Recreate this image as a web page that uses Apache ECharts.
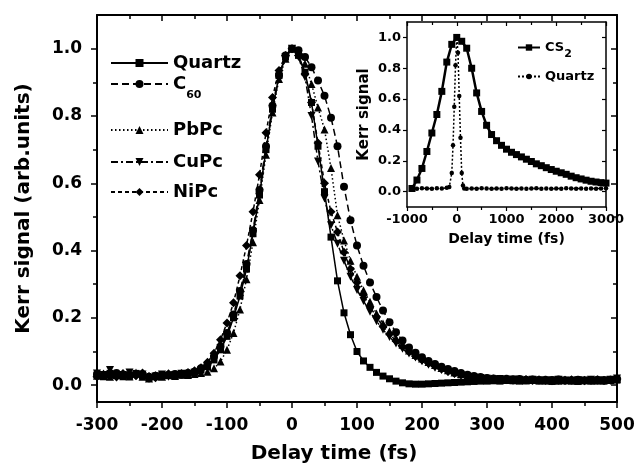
<!DOCTYPE html>
<html>
<head>
<meta charset="utf-8">
<script src="https://cdn.jsdelivr.net/npm/echarts@6/dist/echarts.min.js"></script>
<style>html,body{margin:0;padding:0;background:#fff}#c{width:636px;height:471px}</style>
</head>
<body>
<div id="c"></div>
<script>
// ---------- main panel data ----------
const delayMain = [-300,-290,-280,-270,-260,-250,-240,-230,-220,-210,-200,-190,-180,-170,-160,-150,
  -140,-130,-120,-110,-100,-90,-80,-70,-60,-50,-40,-30,-20,-10,0,
  10,20,30,40,50,60,70,80,90,100,110,120,130,140,150,160,170,180,190,200,
  210,220,230,240,250,260,270,280,290,300,
  310,320,330,340,350,360,370,380,390,400,410,420,430,440,450,460,470,480,490,500];
const quartz = [0.03,0.025,0.035,0.03,0.025,0.03,0.035,0.028,0.022,0.025,0.03,0.028,0.032,0.03,0.035,0.038,
  0.045,0.055,0.075,0.105,0.145,0.20,0.265,0.345,0.45,0.565,0.70,0.82,0.92,0.975,1.0,
  0.98,0.93,0.84,0.71,0.575,0.44,0.31,0.215,0.15,0.10,0.072,0.053,0.038,0.027,0.019,0.012,0.007,0.004,0.003,0.003,
  0.004,0.005,0.006,0.007,0.008,0.009,0.01,0.011,0.012,0.012,
  0.013,0.012,0.014,0.013,0.012,0.013,0.014,0.012,0.013,0.011,0.012,0.013,0.012,0.011,0.013,0.012,0.013,0.012,0.014,0.015];
const c60 = [0.032,0.028,0.03,0.036,0.03,0.027,0.032,0.03,0.025,0.028,0.027,0.03,0.033,0.031,0.036,0.04,
  0.05,0.062,0.085,0.115,0.155,0.21,0.28,0.36,0.46,0.58,0.71,0.83,0.92,0.98,1.0,
  0.995,0.975,0.945,0.905,0.86,0.795,0.71,0.59,0.49,0.415,0.355,0.305,0.262,0.222,0.187,0.157,0.133,0.112,0.096,0.083,
  0.072,0.063,0.055,0.048,0.042,0.036,0.031,0.027,0.024,0.021,
  0.02,0.018,0.019,0.017,0.018,0.016,0.017,0.015,0.016,0.015,0.017,0.014,0.015,0.016,0.014,0.015,0.016,0.014,0.016,0.018];
const pbpc = [0.028,0.035,0.025,0.03,0.034,0.026,0.038,0.025,0.02,0.03,0.025,0.033,0.027,0.032,0.03,0.033,
  0.036,0.04,0.05,0.07,0.105,0.155,0.225,0.315,0.425,0.55,0.685,0.81,0.91,0.97,1.0,
  0.99,0.955,0.895,0.825,0.76,0.645,0.505,0.43,0.37,0.322,0.282,0.248,0.213,0.183,0.16,0.14,0.12,0.103,0.09,0.079,
  0.069,0.06,0.051,0.044,0.038,0.033,0.029,0.025,0.022,0.02,
  0.018,0.019,0.016,0.018,0.017,0.015,0.017,0.016,0.014,0.016,0.015,0.017,0.015,0.014,0.016,0.015,0.014,0.016,0.017,0.019];
const cupc = [0.035,0.03,0.045,0.028,0.03,0.038,0.027,0.032,0.018,0.026,0.032,0.025,0.03,0.034,0.031,0.037,
  0.043,0.055,0.078,0.11,0.15,0.205,0.27,0.35,0.455,0.57,0.70,0.82,0.915,0.975,1.0,
  0.975,0.915,0.80,0.665,0.555,0.475,0.42,0.37,0.322,0.283,0.25,0.218,0.19,0.165,0.143,0.124,0.108,0.094,0.082,0.071,
  0.061,0.052,0.045,0.039,0.034,0.029,0.026,0.023,0.021,0.019,
  0.017,0.018,0.015,0.017,0.016,0.014,0.016,0.015,0.013,0.015,0.016,0.014,0.013,0.015,0.014,0.016,0.013,0.015,0.016,0.02];
const nipc = [0.025,0.032,0.03,0.024,0.035,0.03,0.028,0.036,0.026,0.022,0.028,0.034,0.029,0.035,0.038,0.043,
  0.052,0.068,0.095,0.135,0.185,0.245,0.325,0.415,0.515,0.625,0.75,0.855,0.935,0.98,1.0,
  0.98,0.925,0.84,0.72,0.60,0.515,0.455,0.395,0.345,0.305,0.268,0.233,0.203,0.175,0.152,0.131,0.114,0.099,0.086,0.075,
  0.065,0.056,0.048,0.041,0.035,0.031,0.027,0.024,0.021,0.019,
  0.018,0.016,0.017,0.015,0.016,0.017,0.014,0.016,0.015,0.013,0.015,0.014,0.016,0.015,0.013,0.015,0.016,0.014,0.015,0.018];
const mainYTicks = [0, 0.2, 0.4, 0.6, 0.8, 1.0];
const mainYMinor = [0.1, 0.3, 0.5, 0.7, 0.9];

// ---------- inset data ----------
const delayCS2 = [-900,-800,-700,-600,-500,-400,-300,-200,-100,0,100,200,300,400,500,600,700,800,900,1000,
  1100,1200,1300,1400,1500,1600,1700,1800,1900,2000,2100,2200,2300,2400,2500,2600,2700,2800,2900,3000];
const cs2 = [0.02,0.075,0.15,0.26,0.38,0.50,0.65,0.84,0.955,1.0,0.975,0.93,0.80,0.64,0.52,0.43,0.37,0.33,0.30,0.275,
  0.255,0.24,0.225,0.21,0.195,0.18,0.168,0.155,0.143,0.132,0.122,0.112,0.10,0.09,0.082,0.074,0.067,0.062,0.058,0.055];
const delayQz = [-900,-800,-700,-600,-500,-400,-300,-200,-150,-100,-75,-50,-25,0,25,50,75,100,125,150,
  200,300,400,500,600,700,800,900,1000,1100,1200,1300,1400,1500,1600,1700,1800,1900,2000,2100,2200,2300,2400,2500,2600,2700,2800,2900,3000];
const quartzInset = [0.02,0.018,0.022,0.02,0.019,0.021,0.02,0.025,0.03,0.12,0.3,0.55,0.82,1.0,0.9,0.62,0.35,0.12,0.04,0.02,
  0.018,0.02,0.019,0.021,0.02,0.018,0.02,0.019,0.021,0.02,0.019,0.02,0.018,0.02,0.021,0.019,0.02,0.018,0.02,0.019,0.021,0.02,0.019,0.02,0.018,0.02,0.019,0.02,0.021];
const insetYTicks = [0, 0.2, 0.4, 0.6, 0.8, 1.0];

const zip = (xs, ys) => xs.map((x, i) => [x, ys[i]]);
const FONT = 'DejaVu Sans';
const K = '#000';
const downTri = 'path://M0,0 L10,0 L5,9 Z';

const chart = echarts.init(document.getElementById('c'), null, {renderer: 'canvas'});

const lineAx = w => ({show: true, onZero: false, lineStyle: {color: K, width: w}});
const lbl = (size, margin, extra) => Object.assign({color: K, fontFamily: FONT, fontWeight: 'bold', fontSize: size, margin: margin}, extra || {});

const xBase = {type: 'value', splitLine: {show: false}};
const option = {
  animation: false,
  backgroundColor: '#fff',
  grid: [
    {left: 97, right: 19, top: 15, bottom: 69, outerBoundsMode: 'none'},
    {left: 407, right: 30, top: 22, bottom: 264, show: true, backgroundColor: '#fff', borderWidth: 0, outerBoundsMode: 'none'}
  ],
  xAxis: [
    Object.assign({}, xBase, {gridIndex: 0, position: 'bottom', min: -300, max: 500, interval: 100,
      axisLine: lineAx(2), axisTick: {show: true, inside: false, length: 6, lineStyle: {color: K, width: 1.5}},
      minorTick: {show: true, splitNumber: 2, length: 4, lineStyle: {color: K, width: 1.5}},
      axisLabel: lbl(17, 15, {formatter: v => String(v)}),
      name: 'Delay time (fs)', nameLocation: 'middle', nameGap: 42,
      nameTextStyle: {color: K, fontFamily: FONT, fontWeight: 'bold', fontSize: 20, padding: [0, 46, 0, 0]}}),
    Object.assign({}, xBase, {gridIndex: 0, position: 'top', min: -300, max: 500, interval: 100,
      axisLine: lineAx(2), axisTick: {show: true, inside: true, length: 6, lineStyle: {color: K, width: 1.5}},
      minorTick: {show: true, splitNumber: 2, length: 4, lineStyle: {color: K, width: 1.5}},
      axisLabel: {show: false}}),
    Object.assign({}, xBase, {gridIndex: 1, position: 'bottom', min: -1000, max: 3000, interval: 1000,
      axisLine: lineAx(1.5), axisTick: {show: true, inside: false, length: 4, lineStyle: {color: K, width: 1.2}},
      minorTick: {show: true, splitNumber: 2, length: 3, lineStyle: {color: K, width: 1.2}},
      axisLabel: lbl(13, 6, {formatter: v => String(v)}),
      name: 'Delay time (fs)', nameLocation: 'middle', nameGap: 25,
      nameTextStyle: {color: K, fontFamily: FONT, fontWeight: 'bold', fontSize: 14}}),
    Object.assign({}, xBase, {gridIndex: 1, position: 'top', min: -1000, max: 3000, interval: 1000,
      axisLine: lineAx(1.5), axisTick: {show: true, inside: true, length: 4, lineStyle: {color: K, width: 1.2}},
      minorTick: {show: true, splitNumber: 2, length: 3, lineStyle: {color: K, width: 1.2}},
      axisLabel: {show: false}})
  ],
  yAxis: [
    {type: 'value', gridIndex: 0, position: 'left', min: -0.05, max: 1.1, splitLine: {show: false},
      axisLine: lineAx(2),
      axisTick: {show: true, inside: false, length: 6, customValues: mainYTicks, lineStyle: {color: K, width: 1.5}},
      axisLabel: lbl(17, 15, {customValues: mainYTicks, formatter: v => v.toFixed(1)}),
      name: 'Kerr signal (arb.units)', nameLocation: 'middle', nameGap: 63,
      nameTextStyle: {color: K, fontFamily: FONT, fontWeight: 'bold', fontSize: 20}},
    {type: 'value', gridIndex: 0, position: 'left', min: -0.05, max: 1.1, splitLine: {show: false},
      axisLine: {show: false, onZero: false},
      axisTick: {show: true, inside: false, length: 4, customValues: mainYMinor, lineStyle: {color: K, width: 1.5}},
      axisLabel: {show: false}},
    {type: 'value', gridIndex: 0, position: 'right', min: -0.05, max: 1.1, splitLine: {show: false},
      axisLine: lineAx(2),
      axisTick: {show: true, inside: true, length: 6, customValues: mainYTicks, lineStyle: {color: K, width: 1.5}},
      axisLabel: {show: false}},
    {type: 'value', gridIndex: 0, position: 'right', min: -0.05, max: 1.1, splitLine: {show: false},
      axisLine: {show: false, onZero: false},
      axisTick: {show: true, inside: true, length: 4, customValues: mainYMinor, lineStyle: {color: K, width: 1.5}},
      axisLabel: {show: false}},
    {type: 'value', gridIndex: 1, position: 'left', min: -0.1, max: 1.1, splitLine: {show: false},
      axisLine: lineAx(1.5),
      axisTick: {show: true, inside: false, length: 4, customValues: insetYTicks, lineStyle: {color: K, width: 1.2}},
      axisLabel: lbl(13, 6, {customValues: insetYTicks, formatter: v => v.toFixed(1)}),
      name: 'Kerr signal', nameLocation: 'middle', nameGap: 35,
      nameTextStyle: {color: K, fontFamily: FONT, fontWeight: 'bold', fontSize: 15}},
    {type: 'value', gridIndex: 1, position: 'right', min: -0.1, max: 1.1, splitLine: {show: false},
      axisLine: lineAx(1.5),
      axisTick: {show: true, inside: true, length: 4, customValues: insetYTicks, lineStyle: {color: K, width: 1.2}},
      axisLabel: {show: false}}
  ],
  legend: [],
  series: []
};

const mainSeries = [
  {name: 'Quartz', data: quartz, symbol: 'rect', size: 7, dash: 'solid'},
  {name: 'C60', data: c60, symbol: 'circle', size: 8, dash: [7, 4]},
  {name: 'PbPc', data: pbpc, symbol: 'triangle', size: 8, dash: [1.5, 2.5]},
  {name: 'CuPc', data: cupc, symbol: downTri, size: 8, dash: [7, 3, 2, 3]},
  {name: 'NiPc', data: nipc, symbol: 'diamond', size: 9, dash: [4, 3]}
];
mainSeries.forEach(s => {
  option.series.push({
    type: 'line', name: s.name, xAxisIndex: 0, yAxisIndex: 0,
    data: zip(delayMain, s.data), symbol: s.symbol, symbolSize: s.size,
    showAllSymbol: true, z: 3,
    lineStyle: {color: K, width: 1.5, type: s.dash},
    itemStyle: {color: K, borderWidth: 0}
  });
});
option.series.push({
  type: 'line', name: 'CS2', xAxisIndex: 2, yAxisIndex: 4, data: zip(delayCS2, cs2),
  symbol: 'rect', symbolSize: 7, showAllSymbol: true, z: 6,
  lineStyle: {color: K, width: 2.5}, itemStyle: {color: K, borderWidth: 0}
});
option.series.push({
  type: 'line', name: 'Quartz ', xAxisIndex: 2, yAxisIndex: 4, data: zip(delayQz, quartzInset),
  symbol: 'circle', symbolSize: 4.5, showAllSymbol: true, z: 6,
  lineStyle: {color: K, width: 1.5, type: [2, 2]}, itemStyle: {color: K, borderWidth: 0}
});

const legTxt = (size, rich) => ({color: K, fontFamily: FONT, fontWeight: 'bold', fontSize: size, rich: rich});
const mainRich = {b: {fontSize: 18, lineHeight: 34, fontFamily: FONT, fontWeight: 'bold', color: K},
                  sub: {fontSize: 11, lineHeight: 11, verticalAlign: 'bottom', fontFamily: FONT, fontWeight: 'bold', color: K}};
const insetRich = {b: {fontSize: 13, lineHeight: 24, fontFamily: FONT, fontWeight: 'bold', color: K},
                   sub: {fontSize: 11, lineHeight: 11, verticalAlign: 'bottom', fontFamily: FONT, fontWeight: 'bold', color: K}};
const mainLegendTops = {Quartz: 54, C60: 75, PbPc: 121, CuPc: 153, NiPc: 183};
mainSeries.forEach(s => {
  option.legend.push({
    data: [s.name], left: 110, top: mainLegendTops[s.name], orient: 'vertical', z: 10,
    itemWidth: 57, itemHeight: 10, itemGap: 0, padding: 0, selectedMode: false,
    formatter: n => n === 'C60' ? '{b|C}{sub|60}' : n,
    textStyle: legTxt(18, mainRich)
  });
});
option.legend.push({
  data: ['CS2'], left: 517, top: 41, orient: 'vertical', z: 10, itemWidth: 22, itemHeight: 8, padding: 0, selectedMode: false,
  formatter: () => '{b|CS}{sub|2}', textStyle: legTxt(13, insetRich)
});
option.legend.push({
  data: ['Quartz '], left: 517, top: 70, orient: 'vertical', z: 10, itemWidth: 22, itemHeight: 7, padding: 0, selectedMode: false,
  formatter: () => 'Quartz', textStyle: legTxt(13)
});

chart.setOption(option);
</script>
</body>
</html>
